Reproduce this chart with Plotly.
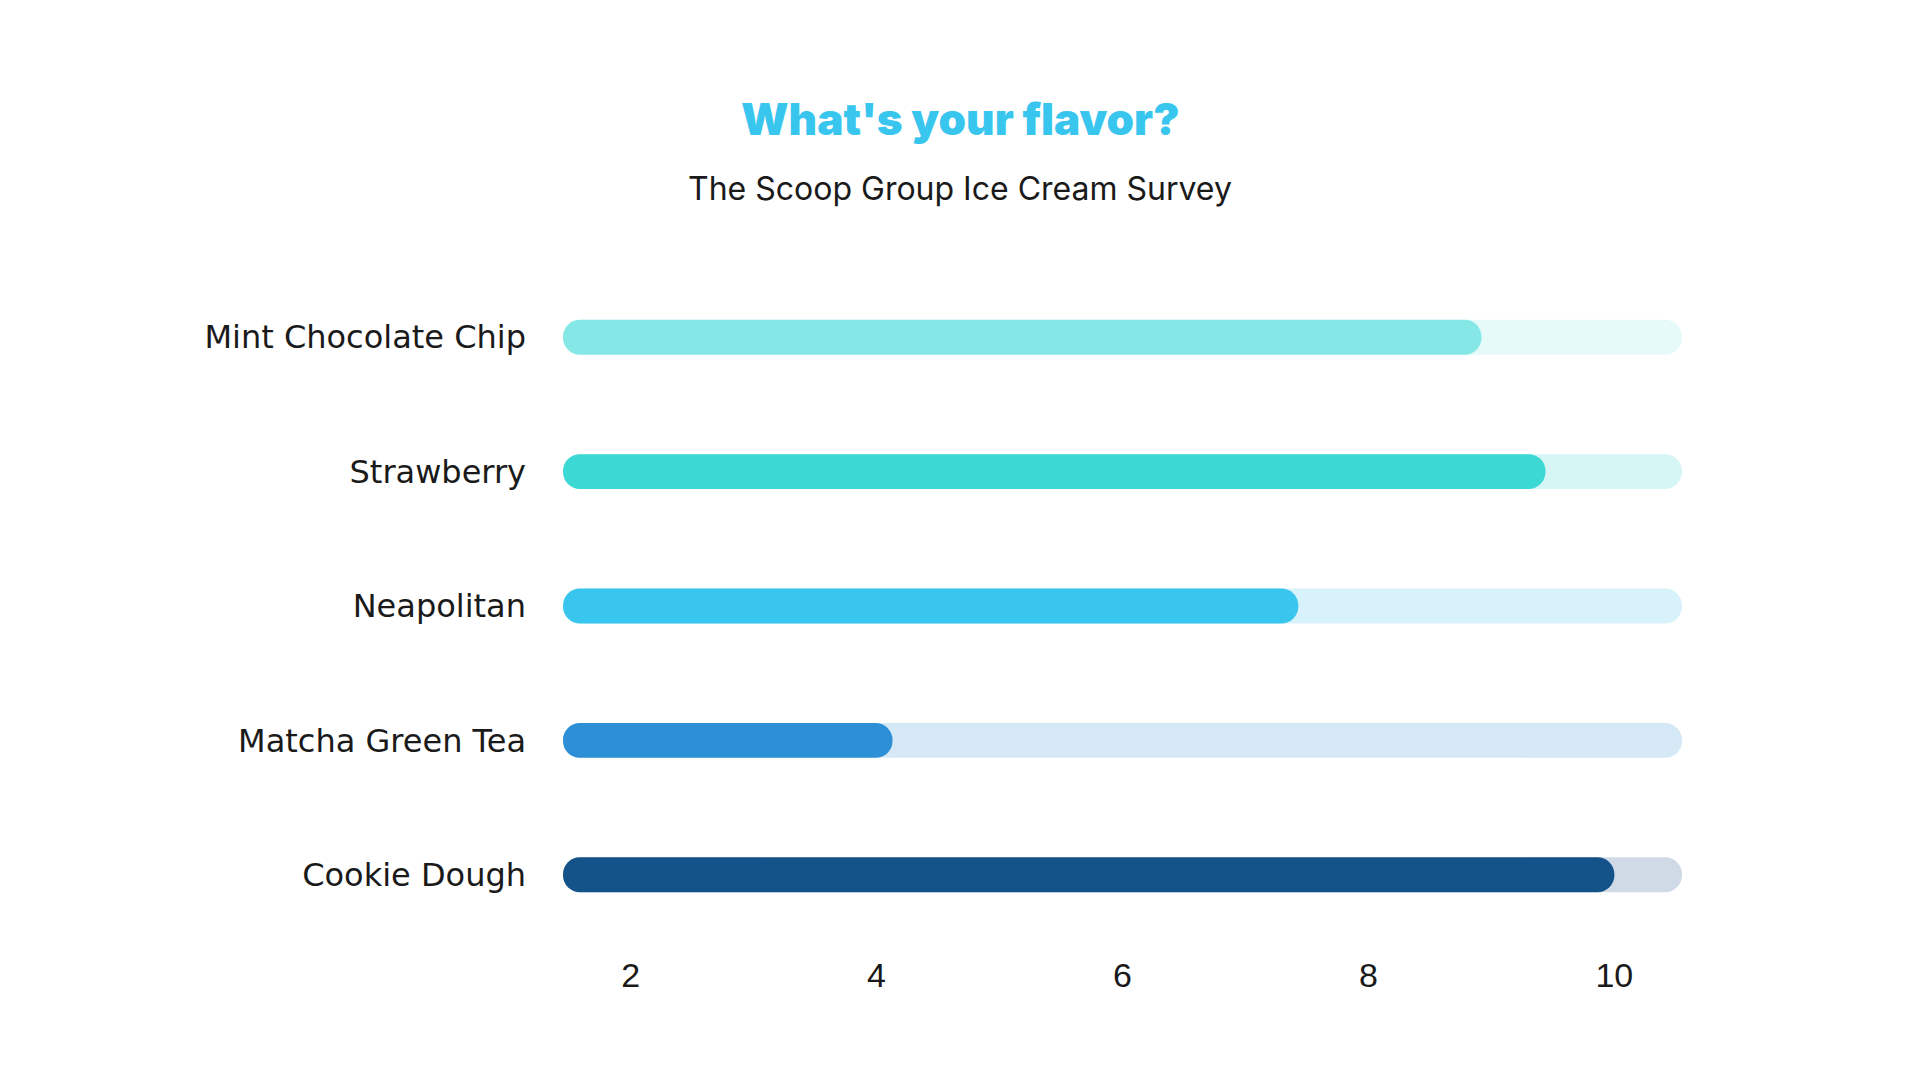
import plotly.graph_objects as go

# ---- data ----
flavors = ["Mint Chocolate Chip", "Strawberry", "Neapolitan", "Matcha Green Tea", "Cookie Dough"]
scores = [8.92, 9.44, 7.43, 4.13, 10.0]
scale_start = 1.45
scale_end = 10.55
tick_vals = [2, 4, 6, 8, 10]
tick_text = ["2", "4", "6", "8", "10"]

bar_colors = ["#86E8E6", "#3CD8D4", "#38C6EE", "#2D90D6", "#14538A"]
track_colors = ["#E5FAF9", "#D6F6F5", "#D7F2FB", "#D5E8F6", "#CFDAE6"]

title_text = "What's your flavor?"
subtitle_text = "The Scoop Group Ice Cream Survey"

fig = go.Figure()

BAR_W = 0.26
RADIUS = 17

# background tracks
fig.add_trace(go.Bar(
    y=flavors, x=[scale_end - scale_start] * len(flavors), base=scale_start, orientation="h",
    marker=dict(color=track_colors, cornerradius=RADIUS, line=dict(width=0)),
    width=BAR_W, hoverinfo="skip", showlegend=False))
# value bars
fig.add_trace(go.Bar(
    y=flavors, x=[s - scale_start for s in scores], base=scale_start, orientation="h",
    marker=dict(color=bar_colors, cornerradius=RADIUS, line=dict(width=0)),
    width=BAR_W, customdata=scores, hovertemplate="%{y}: %{customdata}<extra></extra>",
    showlegend=False))

L, R, T, B = 563, 238, 270, 138
plot_w = 1920 - L - R
plot_h = 1080 - T - B

def py(pix_y):
    return (1080 - B - pix_y) / plot_h

def px(pix_x):
    return (pix_x - L) / plot_w

fig.update_layout(
    width=1920, height=1080,
    barmode="overlay",
    paper_bgcolor="white", plot_bgcolor="white",
    margin=dict(l=L, r=R, t=T, b=B),
    font=dict(family="Liberation Sans", color="#1a1a1a"),
    xaxis=dict(range=[scale_start, scale_end], tickvals=tick_vals, ticktext=tick_text,
               showgrid=False, zeroline=False, showline=False, ticks="",
               tickfont=dict(family="Liberation Sans", size=34, color="#1a1a1a"),
               ticklabelstandoff=10, fixedrange=True),
    yaxis=dict(categoryorder="array", categoryarray=flavors, autorange="reversed",
               showgrid=False, zeroline=False, showline=False, ticks="",
               tickfont=dict(family="DejaVu Sans", size=32, color="#1a1a1a"),
               ticklabelstandoff=36, fixedrange=True),
    annotations=[
        dict(text=title_text, x=px(960), y=py(119), xref="paper", yref="paper",
             xanchor="center", yanchor="middle", showarrow=False,
             font=dict(family="Inter, Roboto", size=44, color="#38C6EE", weight=900)),
        dict(text=subtitle_text, x=px(960), y=py(188), xref="paper", yref="paper",
             xanchor="center", yanchor="middle", showarrow=False,
             font=dict(family="Inter, Roboto", size=32, color="#1a1a1a")),
    ],
)

fig.write_html("out.html")
